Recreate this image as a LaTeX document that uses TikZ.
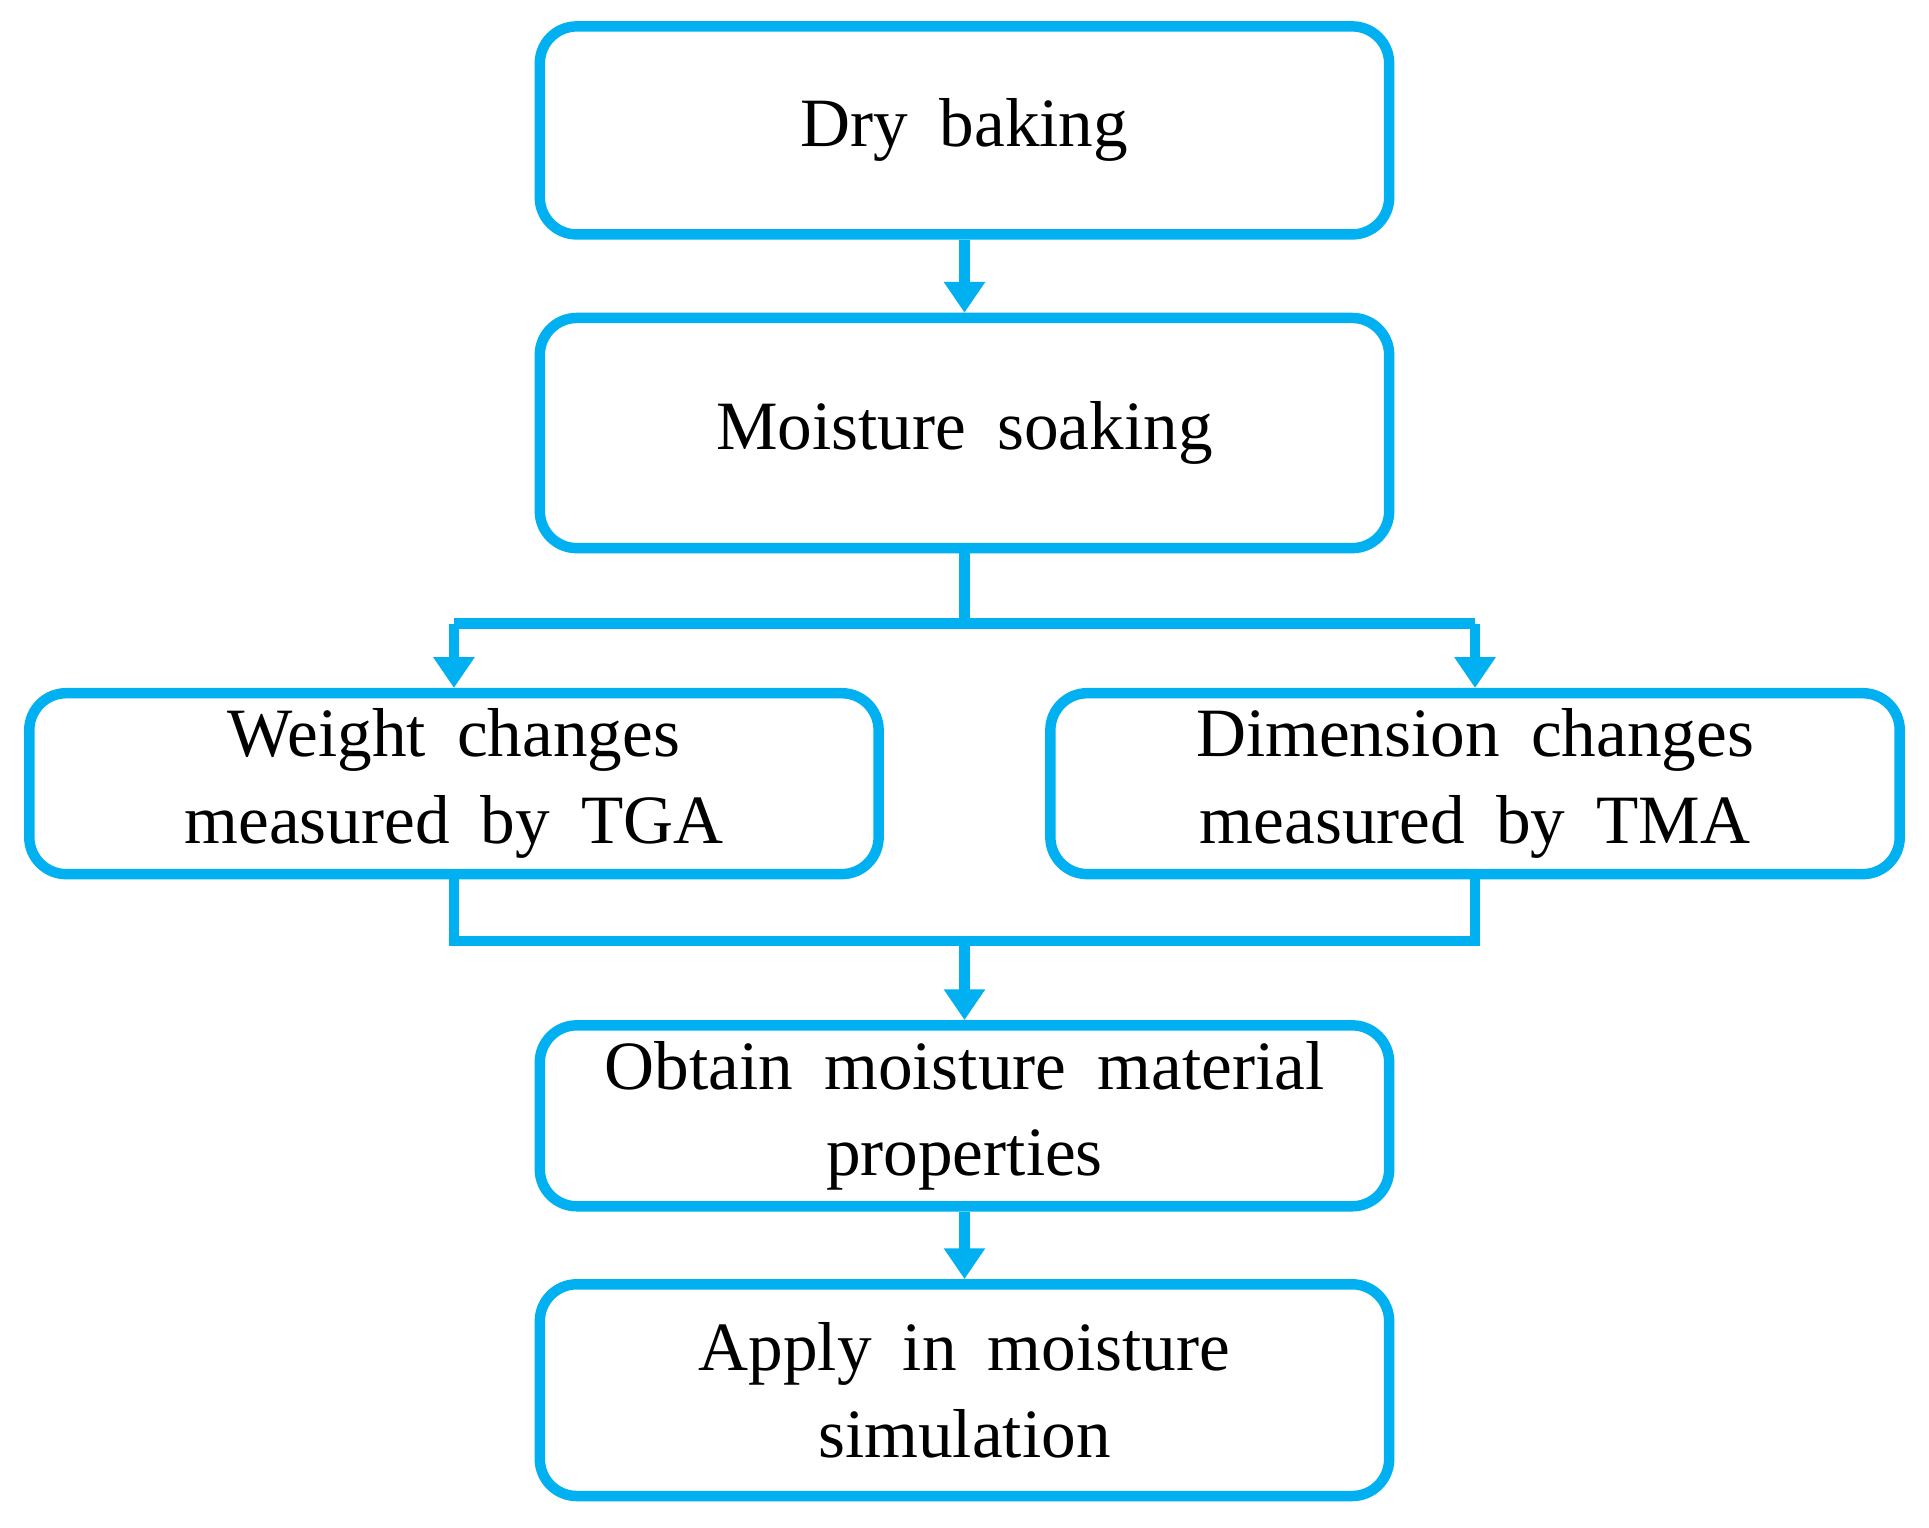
\documentclass[tikz,border=0pt]{standalone}
\usepackage{fontspec}
\setmainfont[WordSpace={1.8,0,0}]{Liberation Serif}
\usetikzlibrary{arrows.meta}
\definecolor{cb}{RGB}{0,176,240}
\begin{document}
\begin{tikzpicture}[x=0.01cm,y=-0.01cm,
  box/.style={draw=cb,line width=0.085cm,rounded corners=0.3cm,minimum width=6.9cm,align=center,
    font=\fontsize{16}{20}\selectfont,inner sep=0pt},
  ln/.style={draw=cb,line width=0.085cm},
  ar/.style={ln,-{Triangle[width=0.32cm,length=0.25cm]}}]
\useasboundingbox (0,0) rectangle (1568,1242);
\node[box,minimum height=1.69cm] (b1) at (784,106) {Dry baking};
\node[box,minimum height=1.87cm] (b2) at (784,352) {Moisture soaking};
\node[box,minimum height=1.47cm] (b3) at (369,637) {Weight changes\\measured by TGA};
\node[box,minimum height=1.47cm] (b4) at (1199,637) {Dimension changes\\measured by TMA};
\node[box,minimum height=1.47cm] (b5) at (784,907) {Obtain moisture material\\properties};
\node[box,minimum height=1.72cm] (b6) at (784,1130) {Apply in moisture\\simulation};
\coordinate (s) at (784,507);
\coordinate (sl) at (369,507);
\coordinate (sr) at (1199,507);
\coordinate (jl) at (369,765);
\coordinate (jr) at (1199,765);
\coordinate (j) at (784,765);
\draw[ar] (b1) -- (b2);
\draw[ln] (b2.south) -- (s);
\draw[ln] (sl) -- (sr);
\draw[ar] (sl) -- (b3.north);
\draw[ar] (sr) -- (b4.north);
\draw[ln] (b3.south) -- (jl) -- (jr) -- (b4.south);
\draw[ar] (j) -- (b5.north);
\draw[ar] (b5) -- (b6);
\end{tikzpicture}
\end{document}
